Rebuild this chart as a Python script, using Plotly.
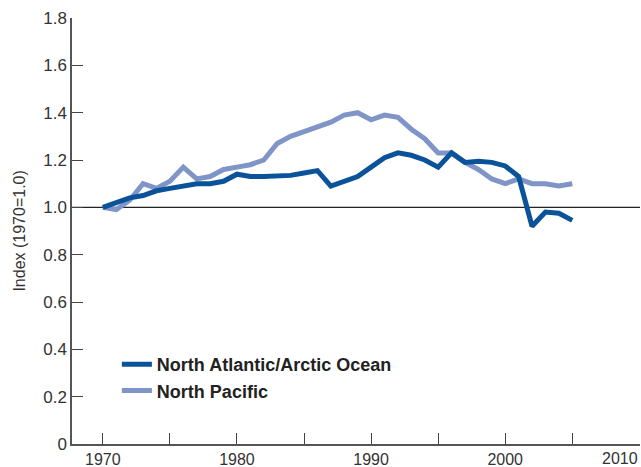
import plotly.graph_objects as go

years = list(range(1970, 2006))
north_atlantic = [1.00, 1.02, 1.04, 1.05, 1.07, 1.08, 1.09, 1.10, 1.10, 1.11,
                  1.14, 1.13, 1.13, 1.13, 1.135, 1.145, 1.155, 1.09, 1.11, 1.13,
                  1.17, 1.21, 1.23, 1.22, 1.20, 1.17, 1.23, 1.19, 1.195, 1.19,
                  1.175, 1.13, 0.92, 0.98, 0.975, 0.945]
north_pacific = [1.00, 0.99, 1.03, 1.10, 1.08, 1.11, 1.17, 1.12, 1.13, 1.16,
                 1.17, 1.18, 1.20, 1.27, 1.30, 1.32, 1.34, 1.36, 1.39, 1.40,
                 1.37, 1.39, 1.38, 1.33, 1.29, 1.23, 1.23, 1.19, 1.16, 1.12,
                 1.10, 1.12, 1.10, 1.10, 1.09, 1.10]

x_tickvals = [1970, 1975, 1980, 1985, 1990, 1995, 2000, 2005, 2010]
x_ticktext = ["1970", "", "1980", "", "1990", "", "2000", "", ""]
last_x_label = "2010"
y_tickvals = [0, 0.2, 0.4, 0.6, 0.8, 1.0, 1.2, 1.4, 1.6, 1.8]
y_ticktext = ["0", "0.2", "0.4", "0.6", "0.8", "1.0", "1.2", "1.4", "1.6", "1.8"]

dark = "#0a5299"
light = "#7f95c8"
font = "Liberation Sans, Arial, sans-serif"

fig = go.Figure()
fig.add_trace(go.Scatter(x=years, y=north_pacific, mode="lines",
                         name="North Pacific", legendgroup="b", legendrank=2,
                         line=dict(color=light, width=5)))
fig.add_trace(go.Scatter(x=years, y=north_atlantic, mode="lines",
                         name="North Atlantic/Arctic Ocean", legendgroup="a", legendrank=1,
                         line=dict(color=dark, width=5)))

fig.add_shape(type="line", xref="paper", yref="y", x0=0, x1=1, y0=1.0, y1=1.0,
              line=dict(color="#222222", width=1.2), layer="below")

fig.add_annotation(text="Index (1970=1.0)", xref="paper", yref="paper",
                   x=-0.094, y=0.5, textangle=-90, showarrow=False,
                   xanchor="center", yanchor="middle",
                   font=dict(family=font, size=16, color="#333333"))

# last x tick label, right-aligned to its tick so it stays inside the page
fig.add_annotation(text=last_x_label, xref="x", yref="paper",
                   x=x_tickvals[-1], y=0, xanchor="right", yanchor="top",
                   yshift=-4, xshift=1, showarrow=False,
                   font=dict(family=font, size=16, color="#333333"))

fig.update_layout(
    width=641, height=467,
    margin=dict(l=72, r=1, t=18, b=23),
    paper_bgcolor="white", plot_bgcolor="white",
    font=dict(family=font, size=17, color="#333333"),
    showlegend=True,
    legend=dict(x=0.079, y=0.230, xanchor="left", yanchor="top",
                traceorder="grouped", tracegroupgap=0,
                font=dict(family=font, size=18, color="#222222", weight="bold"),
                bgcolor="rgba(0,0,0,0)", itemwidth=30),
    xaxis=dict(range=[1967.7, 2010.05], tickvals=x_tickvals, ticktext=x_ticktext,
               ticks="inside", ticklen=11, tickcolor="#444444", tickwidth=1,
               showline=True, linecolor="#555555", linewidth=1.5,
               showgrid=False, zeroline=False, automargin=False,
               tickfont=dict(family=font, size=16, color="#333333")),
    yaxis=dict(range=[0, 1.8], tickvals=y_tickvals, ticktext=y_ticktext,
               ticks="inside", ticklen=11, tickcolor="#444444", tickwidth=1,
               showline=True, linecolor="#555555", linewidth=1.5,
               showgrid=False, zeroline=False, automargin=False,
               tickfont=dict(family=font, size=17, color="#333333")),
)

fig.write_html("out.html", config={"displayModeBar": False},
               post_script="document.body.style.margin='0';document.body.style.overflow='hidden';")
